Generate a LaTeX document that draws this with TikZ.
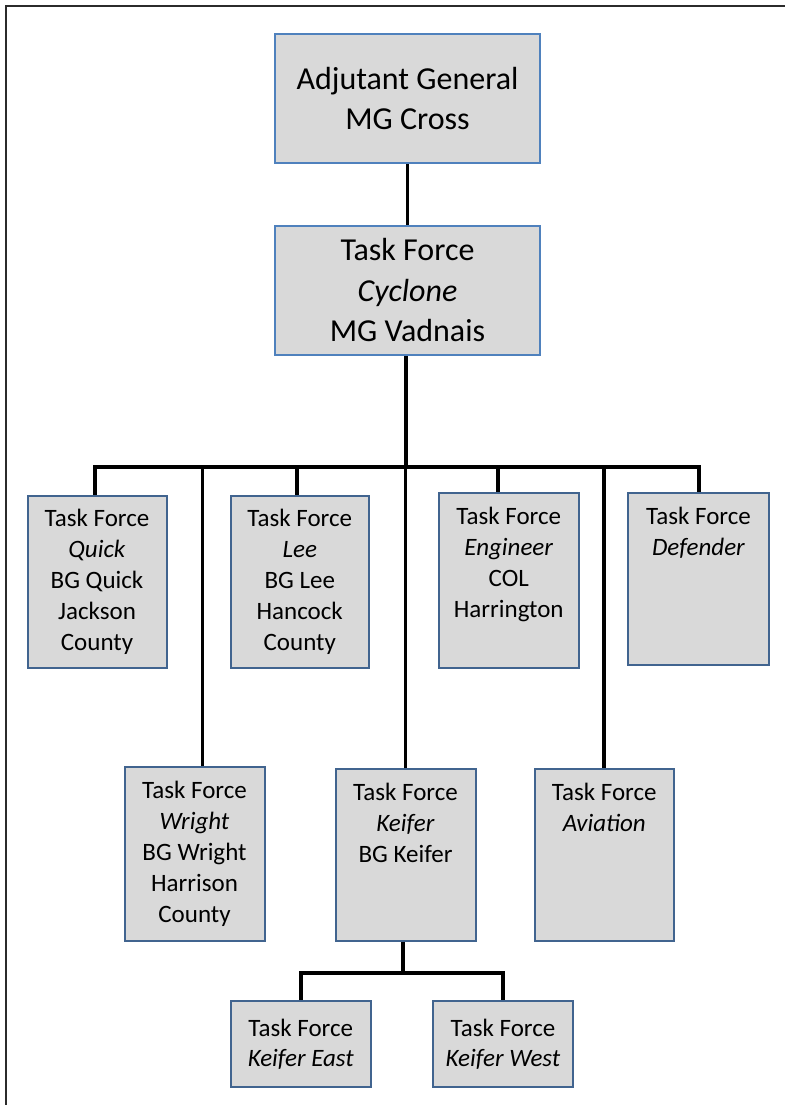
\documentclass[tikz,border=0pt]{standalone}
\usepackage{fontspec}
\setmainfont{Carlito}
\definecolor{topblue}{HTML}{4F81BD}
\definecolor{subblue}{HTML}{41648F}
\definecolor{boxgray}{HTML}{D9D9D9}
\definecolor{framegray}{HTML}{2B2B2B}
\begin{document}
\begin{tikzpicture}[x=1pt,y=-1pt,
  topbox/.style={draw=topblue,line width=2.5pt,fill=boxgray,inner sep=0pt,
    align=center,font=\fontsize{32}{40.5}\selectfont,minimum width=265pt,minimum height=129pt},
  subbox/.style={draw=subblue,line width=2pt,fill=boxgray,inner sep=0pt},
  lowtxt/.style={inner sep=0pt,align=center,font=\fontsize{25}{31}\selectfont},
  conn/.style={draw=black,line width=3.8pt},
  frameline/.style={draw=framegray,line width=2.5pt}
]
\useasboundingbox (0,0) rectangle (784,1105);
\draw[frameline] (6,1106) -- (6,6) -- (785,6);

% connectors (drawn first, boxes cover their ends)
\coordinate (barL) at (95,467);
\coordinate (kbar) at (403,973);

% top boxes
\node[topbox] (ag) at (407.5,98.5) {Adjutant General\\MG Cross};
\node[topbox] (cyc) at (407.5,290.5) {Task Force\\\textit{Cyclone}\\MG Vadnais};

% first row
\node[subbox,minimum width=139pt,minimum height=172pt] (quick) at (97,581.5) {};
\node[subbox,minimum width=138.5pt,minimum height=172pt] (lee) at (299.75,581.5) {};
\node[subbox,minimum width=140.5pt,minimum height=174.5pt] (eng) at (508.75,580.25) {};
\node[subbox,minimum width=141pt,minimum height=172pt] (def) at (698.5,579) {};

% second row
\node[subbox,minimum width=140pt,minimum height=173.5pt] (wright) at (194.5,853.75) {};
\node[subbox,minimum width=140pt,minimum height=171.5pt] (keifer) at (405.5,854.75) {};
\node[subbox,minimum width=139.5pt,minimum height=171.5pt] (avi) at (604.25,854.75) {};

% third row
\node[subbox,minimum width=139.5pt,minimum height=86pt] (east) at (300.75,1044) {};
\node[subbox,minimum width=140pt,minimum height=86pt] (west) at (503,1044) {};

% texts
\node[lowtxt,anchor=north,yshift=-14.7pt] (quickT) at (quick.north) {Task Force\\\textit{Quick}\\BG Quick\\Jackson\\County};
\node[lowtxt,anchor=north,yshift=-14.7pt] (leeT) at (lee.north) {Task Force\\\textit{Lee}\\BG Lee\\Hancock\\County};
\node[lowtxt,anchor=north,yshift=-14.7pt] (engT) at (eng.north) {Task Force\\\textit{Engineer}\\COL\\Harrington};
\node[lowtxt,anchor=north,yshift=-14.7pt] (defT) at (def.north) {Task Force\\\textit{Defender}};
\node[lowtxt,anchor=north,yshift=-14.7pt] (wrightT) at (wright.north) {Task Force\\\textit{Wright}\\BG Wright\\Harrison\\County};
\node[lowtxt,anchor=north,yshift=-14.7pt] (keiferT) at (keifer.north) {Task Force\\\textit{Keifer}\\BG Keifer};
\node[lowtxt,anchor=north,yshift=-14.7pt] (aviT) at (avi.north) {Task Force\\\textit{Aviation}};
\node[lowtxt,font=\fontsize{25}{30}\selectfont] (eastT) at (east.center) {Task Force\\\textit{Keifer East}};
\node[lowtxt,font=\fontsize{25}{30}\selectfont] (westT) at (west.center) {Task Force\\\textit{Keifer West}};

\draw[conn] (ag.south) -- (cyc.north);
\draw[conn] ([xshift=-1.5pt]cyc.south) -- ([xshift=-1.5pt]cyc.south |- barL);
\draw[conn] ([xshift=-2pt]quick.north) -- ([xshift=-2pt]quick.north |- barL)
  -- ([xshift=0.5pt]def.north |- barL) -- ([xshift=0.5pt]def.north);
\draw[conn] ([xshift=-2.75pt]lee.north) -- ([xshift=-2.75pt]lee.north |- barL);
\draw[conn] ([xshift=-11pt]eng.north) -- ([xshift=-11pt]eng.north |- barL);
\draw[conn] ([xshift=8pt]wright.north) -- ([xshift=8pt]wright.north |- barL);
\draw[conn] (keifer.north) -- (keifer.north |- barL);
\draw[conn] (avi.north) -- (avi.north |- barL);
\draw[conn] ([xshift=-2.5pt]keifer.south) -- ([xshift=-2.5pt]keifer.south |- kbar);
\draw[conn] (east.north) -- (east.north |- kbar) -- (west.north |- kbar) -- (west.north);
\end{tikzpicture}
\end{document}
